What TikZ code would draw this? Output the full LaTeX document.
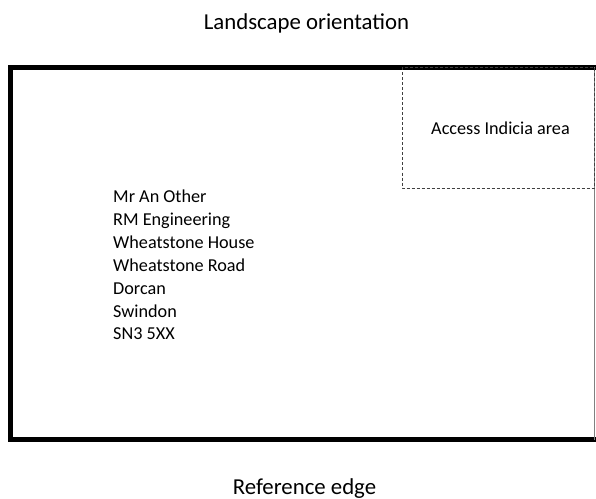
\documentclass[tikz,border=0pt]{standalone}
\usepackage{fontspec}
\setmainfont{Carlito}
\usetikzlibrary{backgrounds}
\begin{document}
\begin{tikzpicture}[x=1bp,y=-1bp,
  envelope/.style={line width=4.8bp},
  indiciabox/.style={draw=black!75,dash pattern=on 3bp off 2bp,line width=0.7bp},
  caption/.style={font=\fontsize{22.8bp}{27bp}\selectfont,inner sep=0pt},
  bodytext/.style={font=\fontsize{18.2bp}{22.8bp}\selectfont,inner sep=0pt}]
  \useasboundingbox (0,0) rectangle (596,499);
  \clip (0,0) rectangle (596,499);
  \fill[white] (0,0) rectangle (596,499);
  \draw[envelope] (620,67.5) -- (10.8,67.5) -- (10.8,439.7) -- (620,439.7);
  \draw[gray,line width=0.8bp] (594.5,67.5) -- (594.5,439.7);
  \draw[indiciabox] (402,67.5) rectangle (594.5,188);

  \node[caption,anchor=base] (orientation) at (306.5,29.5) {Landscape orientation};
  \node[caption,anchor=base] (refedge) at (304.5,494.5) {Reference edge};
  \node[bodytext,anchor=base] (indicia) at (500.5,135) {Access Indicia area};
  \node[bodytext,anchor=base west,align=left] (address) at (113,339.8)
    {Mr An Other\\RM Engineering\\Wheatstone House\\Wheatstone Road\\Dorcan\\Swindon\\SN3 5XX};
\end{tikzpicture}
\end{document}
